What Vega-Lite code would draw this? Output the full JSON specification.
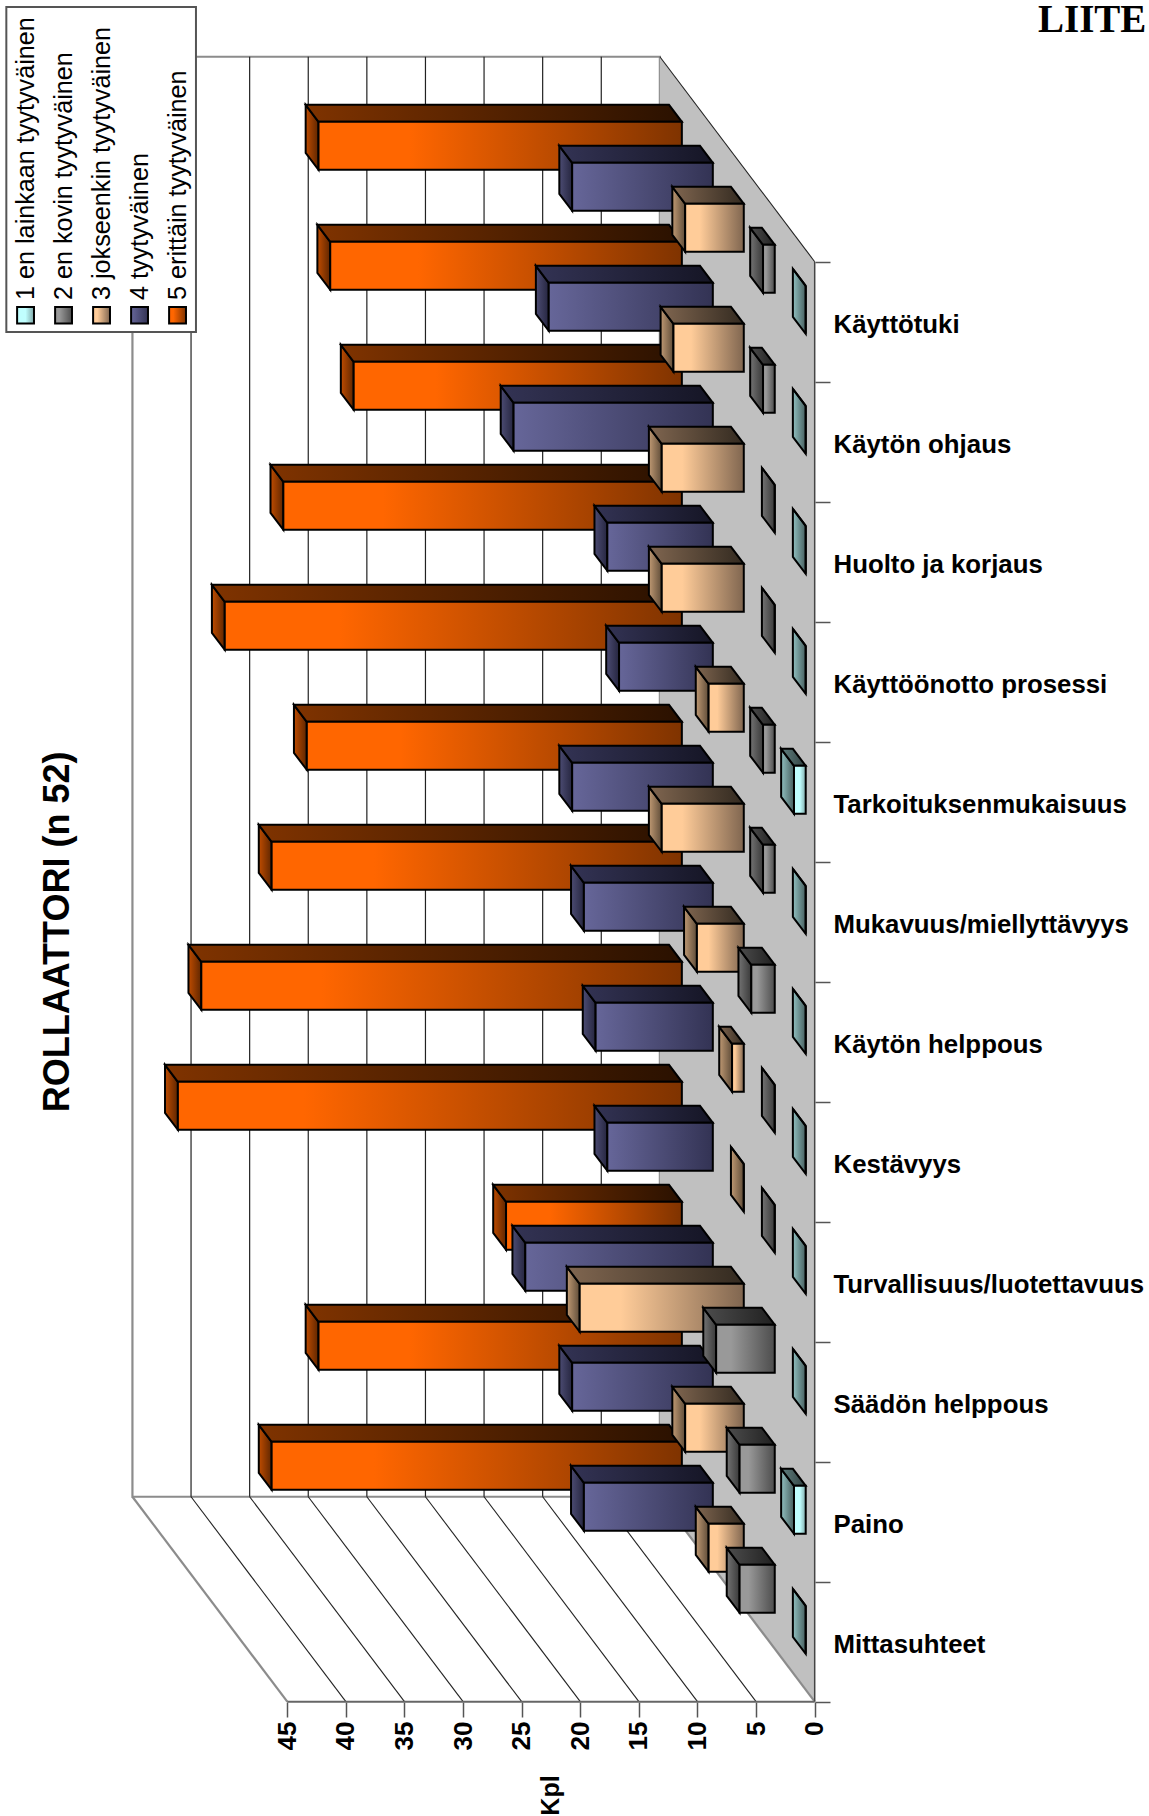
{"$schema":"https://vega.github.io/schema/vega-lite/v6.json","width":815,"height":1702,"autosize":{"type":"none"},"padding":{"left":0,"top":0,"right":334,"bottom":114},"background":"white","config":{"view":{"stroke":null},"axis":{"grid":false}},
"datasets":{"bars":[
{"category":"Käyttötuki","series":"5 erittäin tyytyväinen","value":31},{"category":"Käyttötuki","series":"4 tyytyväinen","value":12},{"category":"Käyttötuki","series":"3 jokseenkin tyytyväinen","value":5},{"category":"Käyttötuki","series":"2 en kovin tyytyväinen","value":1},{"category":"Käyttötuki","series":"1 en lainkaan tyytyväinen","value":0},
{"category":"Käytön ohjaus","series":"5 erittäin tyytyväinen","value":30},{"category":"Käytön ohjaus","series":"4 tyytyväinen","value":14},{"category":"Käytön ohjaus","series":"3 jokseenkin tyytyväinen","value":6},{"category":"Käytön ohjaus","series":"2 en kovin tyytyväinen","value":1},{"category":"Käytön ohjaus","series":"1 en lainkaan tyytyväinen","value":0},
{"category":"Huolto ja korjaus","series":"5 erittäin tyytyväinen","value":28},{"category":"Huolto ja korjaus","series":"4 tyytyväinen","value":17},{"category":"Huolto ja korjaus","series":"3 jokseenkin tyytyväinen","value":7},{"category":"Huolto ja korjaus","series":"2 en kovin tyytyväinen","value":0},{"category":"Huolto ja korjaus","series":"1 en lainkaan tyytyväinen","value":0},
{"category":"Käyttöönotto prosessi","series":"5 erittäin tyytyväinen","value":34},{"category":"Käyttöönotto prosessi","series":"4 tyytyväinen","value":9},{"category":"Käyttöönotto prosessi","series":"3 jokseenkin tyytyväinen","value":7},{"category":"Käyttöönotto prosessi","series":"2 en kovin tyytyväinen","value":0},{"category":"Käyttöönotto prosessi","series":"1 en lainkaan tyytyväinen","value":0},
{"category":"Tarkoituksenmukaisuus","series":"5 erittäin tyytyväinen","value":39},{"category":"Tarkoituksenmukaisuus","series":"4 tyytyväinen","value":8},{"category":"Tarkoituksenmukaisuus","series":"3 jokseenkin tyytyväinen","value":3},{"category":"Tarkoituksenmukaisuus","series":"2 en kovin tyytyväinen","value":1},{"category":"Tarkoituksenmukaisuus","series":"1 en lainkaan tyytyväinen","value":1},
{"category":"Mukavuus/miellyttävyys","series":"5 erittäin tyytyväinen","value":32},{"category":"Mukavuus/miellyttävyys","series":"4 tyytyväinen","value":12},{"category":"Mukavuus/miellyttävyys","series":"3 jokseenkin tyytyväinen","value":7},{"category":"Mukavuus/miellyttävyys","series":"2 en kovin tyytyväinen","value":1},{"category":"Mukavuus/miellyttävyys","series":"1 en lainkaan tyytyväinen","value":0},
{"category":"Käytön helppous","series":"5 erittäin tyytyväinen","value":35},{"category":"Käytön helppous","series":"4 tyytyväinen","value":11},{"category":"Käytön helppous","series":"3 jokseenkin tyytyväinen","value":4},{"category":"Käytön helppous","series":"2 en kovin tyytyväinen","value":2},{"category":"Käytön helppous","series":"1 en lainkaan tyytyväinen","value":0},
{"category":"Kestävyys","series":"5 erittäin tyytyväinen","value":41},{"category":"Kestävyys","series":"4 tyytyväinen","value":10},{"category":"Kestävyys","series":"3 jokseenkin tyytyväinen","value":1},{"category":"Kestävyys","series":"2 en kovin tyytyväinen","value":0},{"category":"Kestävyys","series":"1 en lainkaan tyytyväinen","value":0},
{"category":"Turvallisuus/luotettavuus","series":"5 erittäin tyytyväinen","value":43},{"category":"Turvallisuus/luotettavuus","series":"4 tyytyväinen","value":9},{"category":"Turvallisuus/luotettavuus","series":"3 jokseenkin tyytyväinen","value":0},{"category":"Turvallisuus/luotettavuus","series":"2 en kovin tyytyväinen","value":0},{"category":"Turvallisuus/luotettavuus","series":"1 en lainkaan tyytyväinen","value":0},
{"category":"Säädön helppous","series":"5 erittäin tyytyväinen","value":15},{"category":"Säädön helppous","series":"4 tyytyväinen","value":16},{"category":"Säädön helppous","series":"3 jokseenkin tyytyväinen","value":14},{"category":"Säädön helppous","series":"2 en kovin tyytyväinen","value":5},{"category":"Säädön helppous","series":"1 en lainkaan tyytyväinen","value":0},
{"category":"Paino","series":"5 erittäin tyytyväinen","value":31},{"category":"Paino","series":"4 tyytyväinen","value":12},{"category":"Paino","series":"3 jokseenkin tyytyväinen","value":5},{"category":"Paino","series":"2 en kovin tyytyväinen","value":3},{"category":"Paino","series":"1 en lainkaan tyytyväinen","value":1},
{"category":"Mittasuhteet","series":"5 erittäin tyytyväinen","value":35},{"category":"Mittasuhteet","series":"4 tyytyväinen","value":11},{"category":"Mittasuhteet","series":"3 jokseenkin tyytyväinen","value":3},{"category":"Mittasuhteet","series":"2 en kovin tyytyväinen","value":3},{"category":"Mittasuhteet","series":"1 en lainkaan tyytyväinen","value":0}
],
"grid":[{"v":0},{"v":5},{"v":10},{"v":15},{"v":20},{"v":25},{"v":30},{"v":35},{"v":40},{"v":45}],
"legend":[{"series":"1 en lainkaan tyytyväinen"},{"series":"2 en kovin tyytyväinen"},{"series":"3 jokseenkin tyytyväinen"},{"series":"4 tyytyväinen"},{"series":"5 erittäin tyytyväinen"}]},
"data":{"name":"bars"},
"transform":[
{"calculate":"indexof(['Käyttötuki','Käytön ohjaus','Huolto ja korjaus','Käyttöönotto prosessi','Tarkoituksenmukaisuus','Mukavuus/miellyttävyys','Käytön helppous','Kestävyys','Turvallisuus/luotettavuus','Säädön helppous','Paino','Mittasuhteet'],datum.category)","as":"ci"},
{"calculate":"toNumber(substring(datum.series,0,1))","as":"si"},
{"calculate":"[0,1]","as":"a"},{"flatten":["a"],"as":["t"]},
{"calculate":"0.058+0.2*(datum.si-1)+0.083*datum.t","as":"z"},
{"calculate":"datum.value+13.21*datum.z","as":"xL"},
{"calculate":"13.21*datum.z","as":"xR"},
{"calculate":"datum.ci+0.30-1.708*datum.z","as":"yT"},
{"calculate":"datum.ci+0.70-1.708*datum.z","as":"yB"}],
"layer":[
{"data":{"name":"grid"},"transform":[{"filter":"datum.v==45"},{"calculate":"datum.v+13.21","as":"wx"},{"calculate":"13.21","as":"wx2"},{"calculate":"-1.708","as":"wy"},{"calculate":"10.292","as":"wy2"}],"mark":{"type":"rect","fill":"white","stroke":"#8c8c8c","strokeWidth":2.2},"encoding":{
"x":{"field":"wx","type":"quantitative","title":"Kpl","scale":{"domain":[69.51,-0.026],"nice":false,"zero":false},"axis":{"values":[0,5,10,15,20,25,30,35,40,45],"grid":false,"domain":false,"labelAngle":-90,"labelAlign":"right","labelBaseline":"middle","labelFont":"Liberation Sans","labelFontWeight":"bold","labelFontSize":26,"labelColor":"#000","labelPadding":4,"tickSize":15,"tickColor":"#555","tickWidth":1.5,"titleFont":"Liberation Sans","titleFontWeight":"bold","titleFontSize":25,"titleColor":"#000","titleAngle":-90,"titleX":550,"titleY":93,"titleAlign":"center","titleBaseline":"middle"}},
"x2":{"field":"wx2"},
"y":{"field":"wy","type":"quantitative","title":null,"scale":{"domain":[12.0025,-2.181],"nice":false,"zero":false},"axis":{"orient":"right","values":[0,1,2,3,4,5,6,7,8,9,10,11,12],"grid":false,"domain":false,"labelExpr":"datum.value<12?['Käyttötuki','Käytön ohjaus','Huolto ja korjaus','Käyttöönotto prosessi','Tarkoituksenmukaisuus','Mukavuus/miellyttävyys','Käytön helppous','Kestävyys','Turvallisuus/luotettavuus','Säädön helppous','Paino','Mittasuhteet'][datum.value]:''","labelOffset":63,"labelLimit":400,"labelFont":"Liberation Sans","labelFontWeight":"bold","labelFontSize":25.8,"labelColor":"#000","labelPadding":3,"labelBaseline":"middle","labelOverlap":false,"tickSize":15,"tickColor":"#555","tickWidth":1.5}},
"y2":{"field":"wy2"}}},
{"data":{"name":"grid"},"transform":[{"filter":"datum.v==0"},{"calculate":"[0,1]","as":"a"},{"flatten":["a"],"as":["t"]},{"calculate":"13.21*datum.t","as":"fx"},{"calculate":"-1.708*datum.t","as":"fy"},{"calculate":"12-1.708*datum.t","as":"fy2"}],"mark":{"type":"area","orient":"vertical","fill":"#c0c0c0"},"encoding":{"x":{"field":"fx","type":"quantitative","scale":{"domain":[69.51,-0.026],"nice":false,"zero":false}},"y":{"field":"fy","type":"quantitative","stack":null,"scale":{"domain":[12.0025,-2.181],"nice":false,"zero":false}},"y2":{"field":"fy2"}}},
{"data":{"name":"grid"},"transform":[{"filter":"datum.v>0&&datum.v<45"},{"calculate":"datum.v+13.21","as":"bx"},{"calculate":"-1.708","as":"wy"},{"calculate":"10.292","as":"wy2"}],"mark":{"type":"rule","stroke":"#222","strokeWidth":1.2},"encoding":{"x":{"field":"bx","type":"quantitative","scale":{"domain":[69.51,-0.026],"nice":false,"zero":false}},"y":{"field":"wy","type":"quantitative","scale":{"domain":[12.0025,-2.181],"nice":false,"zero":false}},"y2":{"field":"wy2"}}},
{"data":{"name":"grid"},"transform":[{"filter":"datum.v>0&&datum.v<45"},{"calculate":"datum.v+13.21","as":"bx"},{"calculate":"10.292","as":"b0"},{"calculate":"12","as":"b1"}],"mark":{"type":"rule","stroke":"#222","strokeWidth":1.1},"encoding":{"x":{"field":"bx","type":"quantitative","scale":{"domain":[69.51,-0.026],"nice":false,"zero":false}},"x2":{"field":"v"},"y":{"field":"b0","type":"quantitative","scale":{"domain":[12.0025,-2.181],"nice":false,"zero":false}},"y2":{"field":"b1"}}},
{"data":{"name":"grid"},"transform":[{"filter":"datum.v==0||datum.v==45"},{"calculate":"datum.v+13.21","as":"bx"},{"calculate":"10.292","as":"b0"},{"calculate":"12","as":"b1"}],"mark":{"type":"rule","stroke":"#8c8c8c","strokeWidth":2.2},"encoding":{"x":{"field":"bx","type":"quantitative","scale":{"domain":[69.51,-0.026],"nice":false,"zero":false}},"x2":{"field":"v"},"y":{"field":"b0","type":"quantitative","scale":{"domain":[12.0025,-2.181],"nice":false,"zero":false}},"y2":{"field":"b1"}}},
{"data":{"name":"grid"},"transform":[{"filter":"datum.v==0"},{"calculate":"datum.v+13.21","as":"bx"},{"calculate":"-1.708","as":"b0"}],"mark":{"type":"rule","stroke":"#222","strokeWidth":1.1},"encoding":{"x":{"field":"bx","type":"quantitative","scale":{"domain":[69.51,-0.026],"nice":false,"zero":false}},"x2":{"field":"v"},"y":{"field":"b0","type":"quantitative","scale":{"domain":[12.0025,-2.181],"nice":false,"zero":false}},"y2":{"field":"v"}}},
{"data":{"name":"grid"},"transform":[{"filter":"datum.v==0"},{"calculate":"12","as":"e"}],"mark":{"type":"rule","stroke":"#444","strokeWidth":1.5},"encoding":{"x":{"field":"v","type":"quantitative","scale":{"domain":[69.51,-0.026],"nice":false,"zero":false}},"y":{"field":"v","type":"quantitative","scale":{"domain":[12.0025,-2.181],"nice":false,"zero":false}},"y2":{"field":"e"}}},
{"data":{"name":"grid"},"transform":[{"filter":"datum.v==45"},{"calculate":"0","as":"e"},{"calculate":"12","as":"b"}],"mark":{"type":"rule","stroke":"#666","strokeWidth":2},"encoding":{"x":{"field":"v","type":"quantitative","scale":{"domain":[69.51,-0.026],"nice":false,"zero":false}},"x2":{"field":"e"},"y":{"field":"b","type":"quantitative","scale":{"domain":[12.0025,-2.181],"nice":false,"zero":false}}}},

{"transform":[{"filter":"datum.si==5"}],"mark":{"type":"area","orient":"vertical","stroke":"#000","strokeWidth":2,"fill":{"gradient":"linear","x1":0,"y1":0,"x2":1,"y2":0,"stops":[{"offset":0,"color":"#bf4c00"},{"offset":1,"color":"#5f2600"}]}},"encoding":{"x":{"field":"xL","type":"quantitative","scale":{"domain":[69.51,-0.026],"nice":false,"zero":false}},"y":{"field":"yT","type":"quantitative","stack":null,"scale":{"domain":[12.0025,-2.181],"nice":false,"zero":false}},"y2":{"field":"yB"},"detail":{"field":"category"}}},
{"transform":[{"filter":"datum.si==5"}],"mark":{"type":"area","orient":"horizontal","stroke":"#000","strokeWidth":2,"fill":{"gradient":"linear","x1":0,"y1":0,"x2":1,"y2":0,"stops":[{"offset":0,"color":"#7f3300"},{"offset":1,"color":"#2a1100"}]}},"encoding":{"x":{"field":"xL","type":"quantitative","stack":null,"scale":{"domain":[69.51,-0.026],"nice":false,"zero":false}},"x2":{"field":"xR"},"y":{"field":"yT","type":"quantitative","scale":{"domain":[12.0025,-2.181],"nice":false,"zero":false}},"detail":{"field":"category"}}},
{"transform":[{"filter":"datum.si==5&&datum.t==0"}],"mark":{"type":"rect","stroke":"#000","strokeWidth":2,"fill":{"gradient":"linear","x1":0,"y1":0,"x2":1,"y2":0,"stops":[{"offset":0,"color":"#ff6600"},{"offset":0.25,"color":"#ff6600"},{"offset":1,"color":"#7f3300"}]}},"encoding":{"x":{"field":"xL","type":"quantitative","scale":{"domain":[69.51,-0.026],"nice":false,"zero":false}},"x2":{"field":"xR"},"y":{"field":"yT","type":"quantitative","scale":{"domain":[12.0025,-2.181],"nice":false,"zero":false}},"y2":{"field":"yB"}}},

{"transform":[{"filter":"datum.si==4"}],"mark":{"type":"area","orient":"vertical","stroke":"#000","strokeWidth":2,"fill":{"gradient":"linear","x1":0,"y1":0,"x2":1,"y2":0,"stops":[{"offset":0,"color":"#4c4c73"},{"offset":1,"color":"#262640"}]}},"encoding":{"x":{"field":"xL","type":"quantitative","scale":{"domain":[69.51,-0.026],"nice":false,"zero":false}},"y":{"field":"yT","type":"quantitative","stack":null,"scale":{"domain":[12.0025,-2.181],"nice":false,"zero":false}},"y2":{"field":"yB"},"detail":{"field":"category"}}},
{"transform":[{"filter":"datum.si==4"}],"mark":{"type":"area","orient":"horizontal","stroke":"#000","strokeWidth":2,"fill":{"gradient":"linear","x1":0,"y1":0,"x2":1,"y2":0,"stops":[{"offset":0,"color":"#333354"},{"offset":1,"color":"#151525"}]}},"encoding":{"x":{"field":"xL","type":"quantitative","stack":null,"scale":{"domain":[69.51,-0.026],"nice":false,"zero":false}},"x2":{"field":"xR"},"y":{"field":"yT","type":"quantitative","scale":{"domain":[12.0025,-2.181],"nice":false,"zero":false}},"detail":{"field":"category"}}},
{"transform":[{"filter":"datum.si==4&&datum.t==0"}],"mark":{"type":"rect","stroke":"#000","strokeWidth":2,"fill":{"gradient":"linear","x1":0,"y1":0,"x2":1,"y2":0,"stops":[{"offset":0,"color":"#666699"},{"offset":1,"color":"#333354"}]}},"encoding":{"x":{"field":"xL","type":"quantitative","scale":{"domain":[69.51,-0.026],"nice":false,"zero":false}},"x2":{"field":"xR"},"y":{"field":"yT","type":"quantitative","scale":{"domain":[12.0025,-2.181],"nice":false,"zero":false}},"y2":{"field":"yB"}}},

{"transform":[{"filter":"datum.si==3"}],"mark":{"type":"area","orient":"vertical","stroke":"#000","strokeWidth":2,"fill":{"gradient":"linear","x1":0,"y1":0,"x2":1,"y2":0,"stops":[{"offset":0,"color":"#bf9973"},{"offset":1,"color":"#604d39"}]}},"encoding":{"x":{"field":"xL","type":"quantitative","scale":{"domain":[69.51,-0.026],"nice":false,"zero":false}},"y":{"field":"yT","type":"quantitative","stack":null,"scale":{"domain":[12.0025,-2.181],"nice":false,"zero":false}},"y2":{"field":"yB"},"detail":{"field":"category"}}},
{"transform":[{"filter":"datum.si==3"}],"mark":{"type":"area","orient":"horizontal","stroke":"#000","strokeWidth":2,"fill":{"gradient":"linear","x1":0,"y1":0,"x2":1,"y2":0,"stops":[{"offset":0,"color":"#806650"},{"offset":1,"color":"#332a20"}]}},"encoding":{"x":{"field":"xL","type":"quantitative","stack":null,"scale":{"domain":[69.51,-0.026],"nice":false,"zero":false}},"x2":{"field":"xR"},"y":{"field":"yT","type":"quantitative","scale":{"domain":[12.0025,-2.181],"nice":false,"zero":false}},"detail":{"field":"category"}}},
{"transform":[{"filter":"datum.si==3&&datum.t==0"}],"mark":{"type":"rect","stroke":"#000","strokeWidth":2,"fill":{"gradient":"linear","x1":0,"y1":0,"x2":1,"y2":0,"stops":[{"offset":0,"color":"#ffcc99"},{"offset":0.25,"color":"#ffcc99"},{"offset":1,"color":"#806650"}]}},"encoding":{"x":{"field":"xL","type":"quantitative","scale":{"domain":[69.51,-0.026],"nice":false,"zero":false}},"x2":{"field":"xR"},"y":{"field":"yT","type":"quantitative","scale":{"domain":[12.0025,-2.181],"nice":false,"zero":false}},"y2":{"field":"yB"}}},

{"transform":[{"filter":"datum.si==2"}],"mark":{"type":"area","orient":"vertical","stroke":"#000","strokeWidth":2,"fill":{"gradient":"linear","x1":0,"y1":0,"x2":1,"y2":0,"stops":[{"offset":0,"color":"#737373"},{"offset":1,"color":"#3a3a3a"}]}},"encoding":{"x":{"field":"xL","type":"quantitative","scale":{"domain":[69.51,-0.026],"nice":false,"zero":false}},"y":{"field":"yT","type":"quantitative","stack":null,"scale":{"domain":[12.0025,-2.181],"nice":false,"zero":false}},"y2":{"field":"yB"},"detail":{"field":"category"}}},
{"transform":[{"filter":"datum.si==2"}],"mark":{"type":"area","orient":"horizontal","stroke":"#000","strokeWidth":2,"fill":{"gradient":"linear","x1":0,"y1":0,"x2":1,"y2":0,"stops":[{"offset":0,"color":"#4d4d4d"},{"offset":1,"color":"#202020"}]}},"encoding":{"x":{"field":"xL","type":"quantitative","stack":null,"scale":{"domain":[69.51,-0.026],"nice":false,"zero":false}},"x2":{"field":"xR"},"y":{"field":"yT","type":"quantitative","scale":{"domain":[12.0025,-2.181],"nice":false,"zero":false}},"detail":{"field":"category"}}},
{"transform":[{"filter":"datum.si==2&&datum.t==0"}],"mark":{"type":"rect","stroke":"#000","strokeWidth":2,"fill":{"gradient":"linear","x1":0,"y1":0,"x2":1,"y2":0,"stops":[{"offset":0,"color":"#999999"},{"offset":0.25,"color":"#999999"},{"offset":1,"color":"#4d4d4d"}]}},"encoding":{"x":{"field":"xL","type":"quantitative","scale":{"domain":[69.51,-0.026],"nice":false,"zero":false}},"x2":{"field":"xR"},"y":{"field":"yT","type":"quantitative","scale":{"domain":[12.0025,-2.181],"nice":false,"zero":false}},"y2":{"field":"yB"}}},

{"transform":[{"filter":"datum.si==1"}],"mark":{"type":"area","orient":"vertical","stroke":"#000","strokeWidth":2,"fill":{"gradient":"linear","x1":0,"y1":0,"x2":1,"y2":0,"stops":[{"offset":0,"color":"#90bfbf"},{"offset":1,"color":"#486060"}]}},"encoding":{"x":{"field":"xL","type":"quantitative","scale":{"domain":[69.51,-0.026],"nice":false,"zero":false}},"y":{"field":"yT","type":"quantitative","stack":null,"scale":{"domain":[12.0025,-2.181],"nice":false,"zero":false}},"y2":{"field":"yB"},"detail":{"field":"category"}}},
{"transform":[{"filter":"datum.si==1"}],"mark":{"type":"area","orient":"horizontal","stroke":"#000","strokeWidth":2,"fill":{"gradient":"linear","x1":0,"y1":0,"x2":1,"y2":0,"stops":[{"offset":0,"color":"#608080"},{"offset":1,"color":"#304040"}]}},"encoding":{"x":{"field":"xL","type":"quantitative","stack":null,"scale":{"domain":[69.51,-0.026],"nice":false,"zero":false}},"x2":{"field":"xR"},"y":{"field":"yT","type":"quantitative","scale":{"domain":[12.0025,-2.181],"nice":false,"zero":false}},"detail":{"field":"category"}}},
{"transform":[{"filter":"datum.si==1&&datum.t==0"}],"mark":{"type":"rect","stroke":"#000","strokeWidth":2,"fill":{"gradient":"linear","x1":0,"y1":0,"x2":1,"y2":0,"stops":[{"offset":0,"color":"#c0ffff"},{"offset":0.5,"color":"#c0ffff"},{"offset":1,"color":"#80a8a8"}]}},"encoding":{"x":{"field":"xL","type":"quantitative","scale":{"domain":[69.51,-0.026],"nice":false,"zero":false}},"x2":{"field":"xR"},"y":{"field":"yT","type":"quantitative","scale":{"domain":[12.0025,-2.181],"nice":false,"zero":false}},"y2":{"field":"yB"}}},

{"data":{"name":"grid"},"transform":[{"filter":"datum.v==45"},{"calculate":"68.97","as":"lx1"},{"calculate":"52.79","as":"lx2"},{"calculate":"-2.1225","as":"ly1"},{"calculate":"0.586","as":"ly2"}],"mark":{"type":"rect","fill":"white","stroke":"#555","strokeWidth":2},"encoding":{"x":{"field":"lx1","type":"quantitative","scale":{"domain":[69.51,-0.026],"nice":false,"zero":false}},"x2":{"field":"lx2"},"y":{"field":"ly1","type":"quantitative","scale":{"domain":[12.0025,-2.181],"nice":false,"zero":false}},"y2":{"field":"ly2"}}},
{"data":{"name":"legend"},"transform":[{"filter":"datum.series[0]=='1'"},{"calculate":"67.33+0.72","as":"lx1"},{"calculate":"67.33-0.72","as":"lx2"},{"calculate":"0.3775","as":"ly1"},{"calculate":"0.515","as":"ly2"}],"mark":{"type":"rect","stroke":"#000","strokeWidth":2,"fill":{"gradient":"linear","x1":0,"y1":0,"x2":1,"y2":0,"stops":[{"offset":0,"color":"#c0ffff"},{"offset":0.5,"color":"#c0ffff"},{"offset":1,"color":"#80a8a8"}]}},"encoding":{"x":{"field":"lx1","type":"quantitative","scale":{"domain":[69.51,-0.026],"nice":false,"zero":false}},"x2":{"field":"lx2"},"y":{"field":"ly1","type":"quantitative","scale":{"domain":[12.0025,-2.181],"nice":false,"zero":false}},"y2":{"field":"ly2"}}},
{"data":{"name":"legend"},"transform":[{"filter":"datum.series[0]=='2'"},{"calculate":"64.088+0.72","as":"lx1"},{"calculate":"64.088-0.72","as":"lx2"},{"calculate":"0.3775","as":"ly1"},{"calculate":"0.515","as":"ly2"}],"mark":{"type":"rect","stroke":"#000","strokeWidth":2,"fill":{"gradient":"linear","x1":0,"y1":0,"x2":1,"y2":0,"stops":[{"offset":0,"color":"#999999"},{"offset":0.25,"color":"#999999"},{"offset":1,"color":"#4d4d4d"}]}},"encoding":{"x":{"field":"lx1","type":"quantitative","scale":{"domain":[69.51,-0.026],"nice":false,"zero":false}},"x2":{"field":"lx2"},"y":{"field":"ly1","type":"quantitative","scale":{"domain":[12.0025,-2.181],"nice":false,"zero":false}},"y2":{"field":"ly2"}}},
{"data":{"name":"legend"},"transform":[{"filter":"datum.series[0]=='3'"},{"calculate":"60.846+0.72","as":"lx1"},{"calculate":"60.846-0.72","as":"lx2"},{"calculate":"0.3775","as":"ly1"},{"calculate":"0.515","as":"ly2"}],"mark":{"type":"rect","stroke":"#000","strokeWidth":2,"fill":{"gradient":"linear","x1":0,"y1":0,"x2":1,"y2":0,"stops":[{"offset":0,"color":"#ffcc99"},{"offset":0.25,"color":"#ffcc99"},{"offset":1,"color":"#806650"}]}},"encoding":{"x":{"field":"lx1","type":"quantitative","scale":{"domain":[69.51,-0.026],"nice":false,"zero":false}},"x2":{"field":"lx2"},"y":{"field":"ly1","type":"quantitative","scale":{"domain":[12.0025,-2.181],"nice":false,"zero":false}},"y2":{"field":"ly2"}}},
{"data":{"name":"legend"},"transform":[{"filter":"datum.series[0]=='4'"},{"calculate":"57.604+0.72","as":"lx1"},{"calculate":"57.604-0.72","as":"lx2"},{"calculate":"0.3775","as":"ly1"},{"calculate":"0.515","as":"ly2"}],"mark":{"type":"rect","stroke":"#000","strokeWidth":2,"fill":{"gradient":"linear","x1":0,"y1":0,"x2":1,"y2":0,"stops":[{"offset":0,"color":"#666699"},{"offset":1,"color":"#333354"}]}},"encoding":{"x":{"field":"lx1","type":"quantitative","scale":{"domain":[69.51,-0.026],"nice":false,"zero":false}},"x2":{"field":"lx2"},"y":{"field":"ly1","type":"quantitative","scale":{"domain":[12.0025,-2.181],"nice":false,"zero":false}},"y2":{"field":"ly2"}}},
{"data":{"name":"legend"},"transform":[{"filter":"datum.series[0]=='5'"},{"calculate":"54.362+0.72","as":"lx1"},{"calculate":"54.362-0.72","as":"lx2"},{"calculate":"0.3775","as":"ly1"},{"calculate":"0.515","as":"ly2"}],"mark":{"type":"rect","stroke":"#000","strokeWidth":2,"fill":{"gradient":"linear","x1":0,"y1":0,"x2":1,"y2":0,"stops":[{"offset":0,"color":"#ff6600"},{"offset":0.25,"color":"#ff6600"},{"offset":1,"color":"#7f3300"}]}},"encoding":{"x":{"field":"lx1","type":"quantitative","scale":{"domain":[69.51,-0.026],"nice":false,"zero":false}},"x2":{"field":"lx2"},"y":{"field":"ly1","type":"quantitative","scale":{"domain":[12.0025,-2.181],"nice":false,"zero":false}},"y2":{"field":"ly2"}}},
{"data":{"name":"legend"},"transform":[{"calculate":"toNumber(substring(datum.series,0,1))","as":"si"},{"calculate":"67.33-3.242*(datum.si-1)","as":"lx"},{"calculate":"0.319","as":"ly"}],"mark":{"type":"text","angle":270,"align":"left","baseline":"middle","font":"Liberation Sans","fontSize":25.2,"fill":"#000"},"encoding":{"x":{"field":"lx","type":"quantitative","scale":{"domain":[69.51,-0.026],"nice":false,"zero":false}},"y":{"field":"ly","type":"quantitative","scale":{"domain":[12.0025,-2.181],"nice":false,"zero":false}},"text":{"field":"series"}}},
{"data":{"values":[{"label":"ROLLAATTORI (n 52)"}]},"transform":[{"calculate":"64.56","as":"px"},{"calculate":"5.585","as":"py"}],"mark":{"type":"text","angle":270,"align":"center","baseline":"middle","font":"Liberation Sans","fontWeight":"bold","fontSize":36,"fill":"#000"},"encoding":{"x":{"field":"px","type":"quantitative","scale":{"domain":[69.51,-0.026],"nice":false,"zero":false}},"y":{"field":"py","type":"quantitative","scale":{"domain":[12.0025,-2.181],"nice":false,"zero":false}},"text":{"field":"label"}}},
{"data":{"values":[{"label":"LIITE"}]},"transform":[{"calculate":"-28.3","as":"px"},{"calculate":"-1.914","as":"py"}],"mark":{"type":"text","align":"right","baseline":"alphabetic","font":"Liberation Serif","fontWeight":"bold","fontSize":39,"fill":"#000"},"encoding":{"x":{"field":"px","type":"quantitative","scale":{"domain":[69.51,-0.026],"nice":false,"zero":false}},"y":{"field":"py","type":"quantitative","scale":{"domain":[12.0025,-2.181],"nice":false,"zero":false}},"text":{"field":"label"}}}
]}
